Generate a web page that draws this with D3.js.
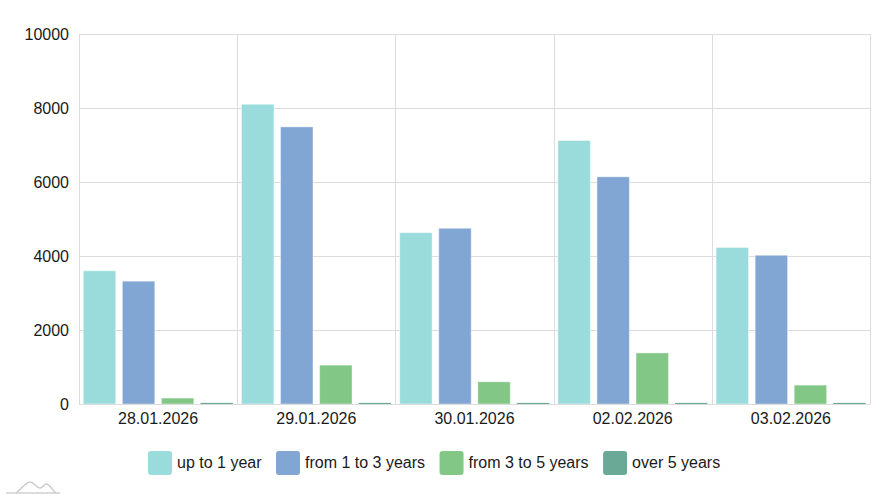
<!DOCTYPE html>
<html><head><meta charset="utf-8">
<script src="https://cdn.jsdelivr.net/npm/d3@7"></script>
<style>
body{margin:0;background:#fff;}
text{font-family:"Liberation Sans",Arial,sans-serif;}
</style></head>
<body><svg id="c" width="891" height="500"></svg>
<script>
const categories = ["28.01.2026","29.01.2026","30.01.2026","02.02.2026","03.02.2026"];
const seriesNames = ["up to 1 year","from 1 to 3 years","from 3 to 5 years","over 5 years"];
const upTo1 = [3600, 8100, 4630, 7120, 4230];
const from1to3 = [3320, 7490, 4750, 6140, 4020];
const from3to5 = [160, 1050, 600, 1380, 510];
const over5 = [30, 30, 30, 30, 30];
const yTicks = [0, 2000, 4000, 6000, 8000, 10000];
const colors = ["#99dcdb", "#82a6d3", "#82c785", "#6aa996"];

const series = [upTo1, from1to3, from3to5, over5];
const svg = d3.select("#c");
const m = {l:79, r:870, t:34, b:404};
const x = d3.scaleBand().domain(categories).range([m.l, m.r]).padding(0);
const xs = d3.scaleBand().domain(d3.range(4)).range([0, x.bandwidth()]).paddingInner(0.17).paddingOuter(0.11);
const y = d3.scaleLinear().domain([0, 10000]).range([m.b, m.t]);

// grid
svg.append("g").selectAll("line").data(yTicks).join("line")
  .attr("x1", m.l).attr("x2", m.r).attr("y1", d=>y(d)+0.5).attr("y2", d=>y(d)+0.5)
  .attr("stroke", "#dcdcdc");
svg.append("g").selectAll("line").data(d3.range(categories.length+1)).join("line")
  .attr("x1", i=>Math.round(m.l + i*x.bandwidth())+0.5).attr("x2", i=>Math.round(m.l + i*x.bandwidth())+0.5)
  .attr("y1", m.t).attr("y2", m.b).attr("stroke", "#dcdcdc");

// bars
const g = svg.append("g");
categories.forEach((c, ci) => {
  series.forEach((s, si) => {
    const h = y(0) - y(s[ci]);
    g.append("rect")
      .attr("x", x(c) + xs(si)).attr("width", xs.bandwidth())
      .attr("y", y(s[ci])).attr("height", h)
      .attr("fill", colors[si])
      .attr("stroke", h > 4 ? "#ffffff" : "none").attr("stroke-opacity", 0.4).attr("stroke-width", 1);
  });
});

// axes
const yAxis = d3.axisLeft(y).tickValues(yTicks).tickSize(0).tickPadding(10).tickFormat(d3.format("d"));
const ya = svg.append("g").attr("transform", `translate(${m.l},0)`).call(yAxis);
ya.select(".domain").remove();
ya.selectAll("text").attr("font-size", 16).attr("fill", "#1a1a1a").style("font-family", "Liberation Sans, Arial, sans-serif");

const xAxis = d3.axisBottom(x).tickSize(0).tickPadding(9);
const xa = svg.append("g").attr("transform", `translate(0,${m.b})`).call(xAxis);
xa.select(".domain").attr("stroke", "#dcdcdc");
xa.selectAll("text").attr("font-size", 16).attr("fill", "#1a1a1a").style("font-family", "Liberation Sans, Arial, sans-serif");

// legend
const lg = svg.append("g");
let lx = 148;
seriesNames.forEach((n, i) => {
  lg.append("rect").attr("x", lx).attr("y", 451).attr("width", 24).attr("height", 24).attr("rx", 3).attr("fill", colors[i]);
  const t = lg.append("text").attr("x", lx + 29).attr("y", 468).attr("font-size", 16).attr("fill", "#1a1a1a").text(n);
  lx += 29 + t.node().getComputedTextLength() + 14.5;
});

// logo
svg.append("path").attr("d", "M6,493 L60,493").attr("stroke", "#d0d0d0").attr("stroke-width", 1.5).attr("fill", "none");
svg.append("path").attr("d", "M16,493 C22,488 26,482 30,482 C34,482 36,488 40,488 C43,488 44,484 46,484 C50,484 52,490 56,493")
  .attr("stroke", "#cccccc").attr("stroke-width", 1.5).attr("fill", "none");
</script></body></html>
